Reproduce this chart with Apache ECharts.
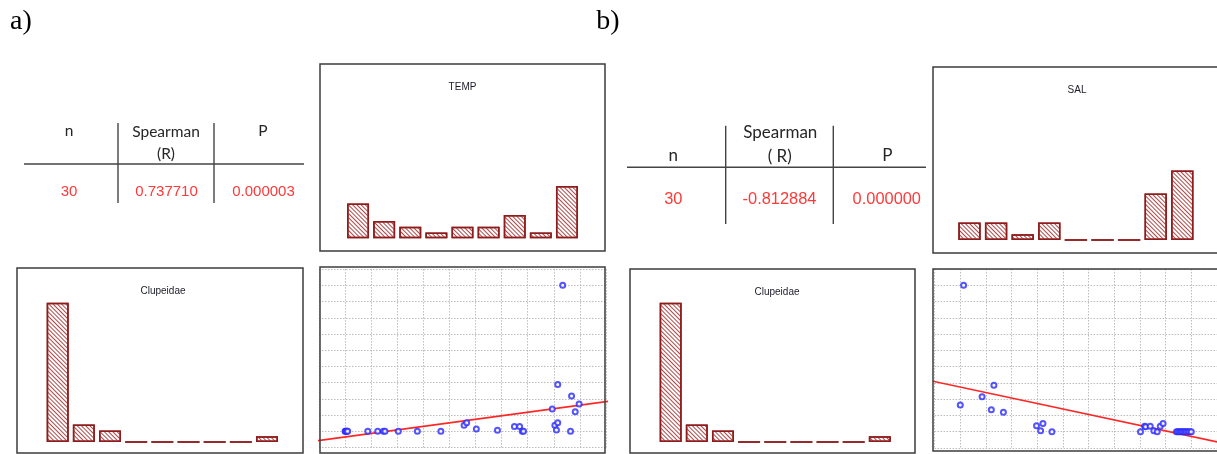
<!DOCTYPE html>
<html>
<head>
<meta charset="utf-8">
<script src="https://cdn.jsdelivr.net/npm/echarts@6/dist/echarts.min.js"></script>
<style>
  html, body { margin: 0; padding: 0; background: #ffffff; }
  #c { width: 1217px; height: 454px; }
</style>
</head>
<body>
<div id="c"></div>
<script>
// Histogram classes (9 equal-width classes per variable)
const binLabels = ['1', '2', '3', '4', '5', '6', '7', '8', '9'];
const tempCounts = [6, 3, 2, 1, 2, 2, 4, 1, 9];
const salCounts = [3, 3, 1, 3, 0, 0, 0, 8, 12];
const clupeidaeCounts = [24, 3, 2, 0, 0, 0, 0, 0, 1];

// Station values expressed in class-width units (0 = lowest class edge, 9 = highest)
const tempValues = [0.00, 0.02, 0.04, 0.07, 0.10, 0.87, 1.25, 1.47, 1.53, 2.04,
                    2.77, 3.67, 4.56, 4.66, 5.03, 5.84, 6.49, 6.69, 6.79, 6.84,
                    7.94, 8.04, 8.10, 8.15, 8.15, 8.34, 8.64, 8.68, 8.82, 8.97];
const clupeidaeByTemp = [0, 0, 0, 0, 0, 0, 0, 0, 0, 0,
                         0, 0, 0.37, 0.53, 0.14, 0.06, 0.30, 0.30, 0, 0,
                         1.37, 0.37, 0.08, 0.53, 2.89, 9.00, 0, 2.17, 1.20, 1.68];
const salValues = [0.13, 0.00, 0.85, 1.31, 1.21, 1.68, 2.97, 3.22, 3.13, 3.57,
                   7.02, 7.18, 7.22, 7.40, 7.54, 7.67, 7.79, 7.90, 8.42, 8.47,
                   8.52, 8.57, 8.62, 8.67, 8.72, 8.77, 8.82, 8.88, 8.94, 9.00];
const clupeidaeBySal = [9.00, 1.64, 2.15, 2.85, 1.35, 1.19, 0.37, 0.51, 0.06, 0,
                        0, 0.33, 0.30, 0.33, 0.06, 0, 0.33, 0.51, 0, 0,
                        0, 0, 0, 0, 0, 0, 0, 0, 0, 0];

// Spearman rank correlation tables
const tableHeaders = ['n', 'Spearman', 'P'];
const tableSubHeaderA = '(R)';
const tableSubHeaderB = '( R)';
const statsTemp = ['30', '0.737710', '0.000003'];
const statsSal = ['30', '-0.812884', '0.000000'];

const panelTitles = { temp: 'TEMP', sal: 'SAL', clup: 'Clupeidae' };

// ---- styling ----
const BAR_RED = '#8e1c1c';
const TEXT_RED = '#ff3838';
const FRAME = '#3c3c3c';
const hatch = {
  symbol: 'rect', symbolSize: 1, color: '#b04848',
  dashArrayX: [1, 0], dashArrayY: [1, 1.1], rotation: Math.PI / 4
};

// panel frames [x, y, w, h]
const frames = [
  [320, 64, 285, 187],   // TEMP histogram
  [17, 268, 286, 185],   // Clupeidae histogram (a)
  [320, 267, 285, 186],  // TEMP vs Clupeidae
  [933, 67, 300, 186],   // SAL histogram
  [630, 269, 285, 184],  // Clupeidae histogram (b)
  [933, 269, 300, 182]   // SAL vs Clupeidae
];

// plotting areas [left, top, width, height]
const grids = [
  [345, 64.3, 235, 174],     // 0 TEMP hist
  [44.6, 268, 235.5, 174],   // 1 Clupeidae hist (a)
  [956.2, 66, 239.4, 174],   // 2 SAL hist
  [657.6, 268, 235.3, 174],  // 3 Clupeidae hist (b)
  [319, 269.1, 287, 178.4],  // 4 TEMP scatter
  [934.6, 269, 282.4, 179]   // 5 SAL scatter
];

function fitLine(xs, ys) {
  const n = xs.length;
  const mx = xs.reduce((a, b) => a + b, 0) / n;
  const my = ys.reduce((a, b) => a + b, 0) / n;
  let sxy = 0, sxx = 0;
  for (let i = 0; i < n; i++) {
    sxy += (xs[i] - mx) * (ys[i] - my);
    sxx += (xs[i] - mx) * (xs[i] - mx);
  }
  const b = sxy / sxx, a = my - b * mx;
  return [[-1.5, a - 1.5 * b], [10.5, a + 10.5 * b]];
}
const zip = (xs, ys) => xs.map((x, i) => [x, ys[i]]);

const xAxes = [], yAxes = [];
for (let i = 0; i < 4; i++) {
  xAxes.push({ gridIndex: i, type: 'category', data: binLabels, show: false });
  yAxes.push({ gridIndex: i, type: 'value', min: 0, max: 30, show: false });
}
for (let i = 4; i < 6; i++) {
  const split = { show: true, lineStyle: { color: '#bdbdbd', type: [1.5, 1.5], width: 1 } };
  xAxes.push({ gridIndex: i, type: 'value', min: -1, max: 10, interval: 1,
    axisLine: { show: false }, axisTick: { show: false }, axisLabel: { show: false }, splitLine: split });
  yAxes.push({ gridIndex: i, type: 'value', min: -1, max: 10, interval: 1,
    axisLine: { show: false }, axisTick: { show: false }, axisLabel: { show: false }, splitLine: split });
}

function histSeries(idx, counts) {
  return {
    type: 'bar', xAxisIndex: idx, yAxisIndex: idx, data: counts,
    barCategoryGap: '16%', silent: true, animation: false,
    itemStyle: { color: '#ffffff', borderColor: BAR_RED, borderWidth: 1.5, decal: hatch }
  };
}
function scatterSeries(idx, xs, ys) {
  return {
    type: 'scatter', xAxisIndex: idx, yAxisIndex: idx, data: zip(xs, ys),
    symbol: 'emptyCircle', symbolSize: 5, silent: true, animation: false, z: 5,
    itemStyle: { color: '#2a2aff', borderColor: '#2a2aff', borderWidth: 1.2 }
  };
}
function fitSeries(idx, xs, ys) {
  return {
    type: 'line', xAxisIndex: idx, yAxisIndex: idx, data: fitLine(xs, ys),
    symbol: 'none', silent: true, animation: false, clip: true, z: 4,
    lineStyle: { color: '#ff2626', width: 1.6 }
  };
}

// ---- graphic overlay: frames, titles, tables, panel letters ----
const graphics = [];
frames.forEach(f => graphics.push({
  type: 'rect', z: 100, silent: true,
  shape: { x: f[0], y: f[1], width: f[2], height: f[3] },
  style: { fill: null, stroke: FRAME, lineWidth: 1.5 }
}));
function txt(text, x, y, font, fill) {
  graphics.push({
    type: 'text', z: 100, silent: true, x: x, y: y,
    style: { text: text, font: font, fill: fill, align: 'center', verticalAlign: 'middle',
             textAlign: 'center', textVerticalAlign: 'middle' }
  });
}
function seg(x1, y1, x2, y2) {
  graphics.push({
    type: 'line', z: 100, silent: true,
    shape: { x1: x1, y1: y1, x2: x2, y2: y2 },
    style: { stroke: '#444444', lineWidth: 1.4 }
  });
}

const TITLE_FONT = '10px "Liberation Sans", Arial, sans-serif';
txt(panelTitles.temp, 462.5, 87, TITLE_FONT, '#1c1c28');
txt(panelTitles.clup, 163, 291, TITLE_FONT, '#1c1c28');
txt(panelTitles.sal, 1077, 90, TITLE_FONT, '#1c1c28');
txt(panelTitles.clup, 777, 292, TITLE_FONT, '#1c1c28');

txt('a)', 21, 22, '28px "Liberation Serif", "Times New Roman", serif', '#000000');
txt('b)', 608, 22, '28px "Liberation Serif", "Times New Roman", serif', '#000000');

// table (a)
const headA = '15.5px Lato, "Open Sans", sans-serif';
const valA = '15px "Liberation Sans", Arial, sans-serif';
seg(24, 164, 304, 164);
seg(118, 123, 118, 203);
seg(214, 123, 214, 203);
txt(tableHeaders[0], 69, 131, headA, '#262626');
txt(tableHeaders[1], 166, 132, headA, '#262626');
txt(tableSubHeaderA, 166, 154, headA, '#262626');
txt(tableHeaders[2], 263, 131, headA, '#262626');
txt(statsTemp[0], 69, 192, valA, TEXT_RED);
txt(statsTemp[1], 166.5, 192, valA, TEXT_RED);
txt(statsTemp[2], 263.5, 192, valA, TEXT_RED);

// table (b)
const headB = '17px Lato, "Open Sans", sans-serif';
const valB = '16.4px "Liberation Sans", Arial, sans-serif';
seg(627, 167.3, 926, 167.3);
seg(725.7, 125.7, 725.7, 224);
seg(833.3, 125.7, 833.3, 224);
txt(tableHeaders[0], 673.3, 156, headB, '#262626');
txt(tableHeaders[1], 780.3, 133, headB, '#262626');
txt(tableSubHeaderB, 779.7, 156.5, headB, '#262626');
txt(tableHeaders[2], 887.3, 155.5, headB, '#262626');
txt(statsSal[0], 673.3, 199.5, valB, TEXT_RED);
txt(statsSal[1], 779.5, 199.5, valB, TEXT_RED);
txt(statsSal[2], 886.8, 199.5, valB, TEXT_RED);

const chart = echarts.init(document.getElementById('c'), null, { renderer: 'canvas' });
chart.setOption({
  animation: false,
  backgroundColor: '#ffffff',
  grid: grids.map(g => ({ left: g[0], top: g[1], width: g[2], height: g[3],
                          containLabel: false, outerBoundsMode: 'none', show: false })),
  xAxis: xAxes,
  yAxis: yAxes,
  series: [
    histSeries(0, tempCounts),
    histSeries(1, clupeidaeCounts),
    histSeries(2, salCounts),
    histSeries(3, clupeidaeCounts),
    fitSeries(4, tempValues, clupeidaeByTemp),
    scatterSeries(4, tempValues, clupeidaeByTemp),
    fitSeries(5, salValues, clupeidaeBySal),
    scatterSeries(5, salValues, clupeidaeBySal)
  ],
  graphic: { elements: graphics }
});
</script>
</body>
</html>
